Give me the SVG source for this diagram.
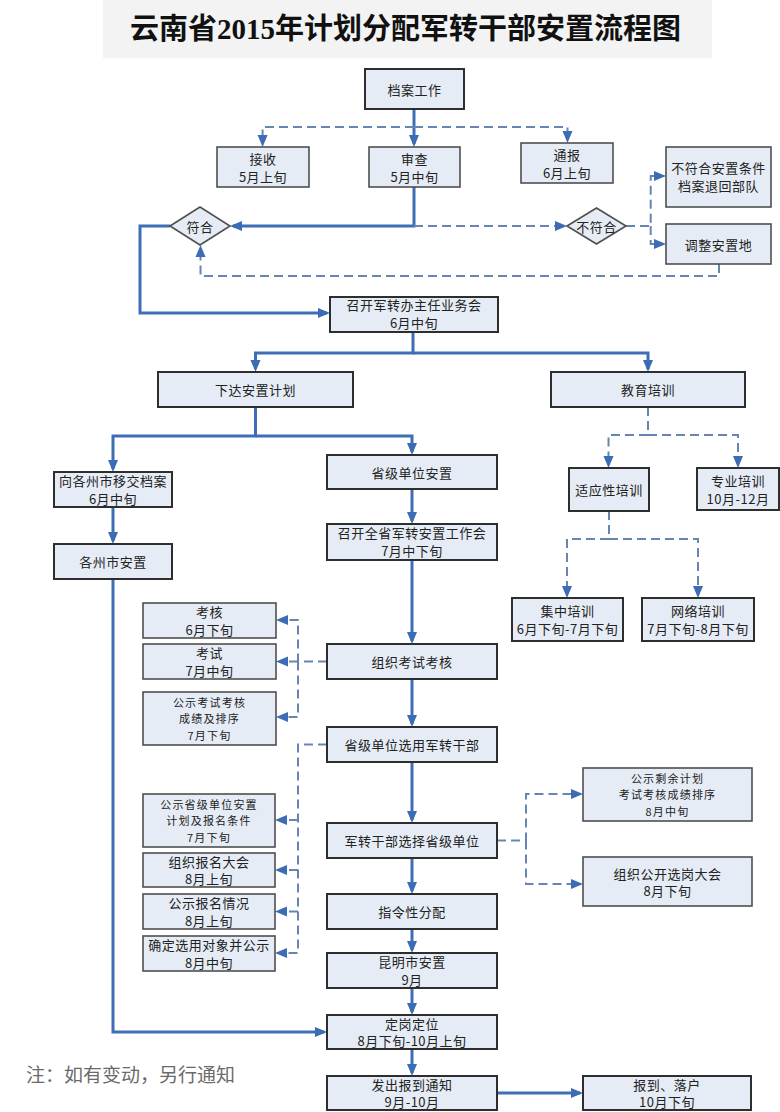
<svg xmlns="http://www.w3.org/2000/svg" width="780" height="1112" viewBox="0 0 780 1112">
<defs>
<style>
.box{fill:#e6ecf5;stroke:#2e2e2e;stroke-width:2}
.box2{fill:#e6ecf5;stroke:#4f4f4f;stroke-width:1.6}
.t{font-family:"Noto Sans CJK SC","Noto Sans",sans-serif;font-size:13px;fill:#222;text-anchor:middle;dominant-baseline:central;letter-spacing:0.5px}
.t3{font-family:"Noto Sans CJK SC","Noto Sans",sans-serif;font-size:11px;fill:#222;text-anchor:middle;dominant-baseline:central;letter-spacing:1.2px}
.s{fill:none;stroke:#3e6fb6;stroke-width:3}
.d{fill:none;stroke:#6685b0;stroke-width:2;stroke-dasharray:9 5}
</style>
<marker id="a" viewBox="0 0 12 12" refX="9" refY="6" markerWidth="12" markerHeight="12" markerUnits="userSpaceOnUse" orient="auto">
<path d="M0,1 L12,6 L0,11 z" fill="#3b6cb5"/>
</marker>
</defs>
<rect width="780" height="1112" fill="#ffffff"/>
<g id="title">
<rect x="103" y="0" width="609" height="58" fill="#f3f3f3"/>
<text x="405.5" y="39" font-family="'Liberation Serif','Noto Sans CJK SC',serif" font-size="29" font-weight="bold" fill="#111" text-anchor="middle">云南省2015年计划分配军转干部安置流程图</text>
</g>
<g id="connectors">
<path class="s" d="M414,109 V144" marker-end="url(#a)"/>
<path class="d" d="M414,127 H262.6 V144" marker-end="url(#a)"/>
<path class="d" d="M414,127 H567.5 V140" marker-end="url(#a)"/>
<path class="s" d="M414,187 V226 H233" marker-end="url(#a)"/>
<path class="d" d="M414,226 H564" marker-end="url(#a)"/>
<path class="d" d="M626,226 H650.7 V176 H663" marker-end="url(#a)"/>
<path class="d" d="M650.7,226 V244 H663" marker-end="url(#a)"/>
<path class="d" d="M719,264 V276 H200.5 V248" marker-end="url(#a)"/>
<path class="s" d="M170,226 H140 V313 H327" marker-end="url(#a)"/>
<path class="s" d="M413,332 V353 H255.5 V369" marker-end="url(#a)"/>
<path class="s" d="M413,353 H648 V369" marker-end="url(#a)"/>
<path class="s" d="M255.5,407 V436 H113 V469" marker-end="url(#a)"/>
<path class="s" d="M255.5,436 H412 V452" marker-end="url(#a)"/>
<path class="s" d="M113,507 V541" marker-end="url(#a)"/>
<path class="s" d="M412,489 V521" marker-end="url(#a)"/>
<path class="d" d="M648,407 V435 H608.5 V465" marker-end="url(#a)"/>
<path class="d" d="M648,435 H738 V465" marker-end="url(#a)"/>
<path class="d" d="M609,511 V539 H567 V595" marker-end="url(#a)"/>
<path class="d" d="M609,539 H698 V595" marker-end="url(#a)"/>
<path class="s" d="M412,560 V641" marker-end="url(#a)"/>
<path class="d" d="M327,661.5 H298 V620 H279" marker-end="url(#a)"/>
<path class="d" d="M298,661.5 H279" marker-end="url(#a)"/>
<path class="d" d="M298,661.5 V717 H279" marker-end="url(#a)"/>
<path class="s" d="M412,679 V724" marker-end="url(#a)"/>
<path class="d" d="M327,744.5 H298 V953 H278" marker-end="url(#a)"/>
<path class="d" d="M298,820 H278" marker-end="url(#a)"/>
<path class="d" d="M298,870 H278" marker-end="url(#a)"/>
<path class="d" d="M298,911.5 H278" marker-end="url(#a)"/>
<path class="s" d="M412,762 V820" marker-end="url(#a)"/>
<path class="d" d="M497,840.5 H526 V794 H580" marker-end="url(#a)"/>
<path class="d" d="M526,840.5 V884 H580" marker-end="url(#a)"/>
<path class="s" d="M412,858 V891" marker-end="url(#a)"/>
<path class="s" d="M412,929 V950" marker-end="url(#a)"/>
<path class="s" d="M412,988 V1012" marker-end="url(#a)"/>
<path class="s" d="M113,579 V1032 H324" marker-end="url(#a)"/>
<path class="s" d="M412,1049 V1073" marker-end="url(#a)"/>
<path class="s" d="M497,1093 H580" marker-end="url(#a)"/>
</g>
<g id="n-dangan"><rect class="box" x="365" y="69" width="99" height="40"/><text class="t" x="414.5" y="89">档案工作</text></g>
<g id="n-jieshou"><rect class="box2" x="217" y="147" width="92" height="40"/><text class="t" x="263" y="158.5">接收</text><text class="t" x="263" y="176">5月上旬</text></g>
<g id="n-shencha"><rect class="box2" x="369" y="147" width="91" height="40"/><text class="t" x="414.5" y="158.5">审查</text><text class="t" x="414.5" y="176">5月中旬</text></g>
<g id="n-tongbao"><rect class="box2" x="521" y="143" width="92" height="40"/><text class="t" x="567" y="154.5">通报</text><text class="t" x="567" y="172">6月上旬</text></g>
<g id="n-butuihui"><rect class="box2" x="666" y="147" width="105" height="60"/><text class="t" x="718.5" y="167">不符合安置条件</text><text class="t" x="718.5" y="185">档案退回部队</text></g>
<g id="n-tiaozheng"><rect class="box2" x="666" y="224" width="105" height="40"/><text class="t" x="718.5" y="244">调整安置地</text></g>
<g id="n-fuhe"><polygon class="box2" points="170,226 200,207 230,226 200,245"/><text class="t" x="200" y="226">符合</text></g>
<g id="n-bufuhe"><polygon class="box2" points="567,226 596.5,208 626,226 596.5,244"/><text class="t" x="596.5" y="226">不符合</text></g>
<g id="n-zhaokai"><rect class="box" x="330" y="297" width="168" height="35"/><text class="t" x="414" y="304.5">召开军转办主任业务会</text><text class="t" x="414" y="322.5">6月中旬</text></g>
<g id="n-xiada"><rect class="box" x="158" y="372" width="195" height="35"/><text class="t" x="255.5" y="389.5">下达安置计划</text></g>
<g id="n-jiaoyu"><rect class="box" x="551" y="372" width="194" height="35"/><text class="t" x="648" y="389.5">教育培训</text></g>
<g id="n-xiangge"><rect class="box" x="54" y="472" width="118" height="35"/><text class="t" x="113" y="480.5">向各州市移交档案</text><text class="t" x="113" y="498">6月中旬</text></g>
<g id="n-shengji"><rect class="box" x="327" y="455" width="170" height="34"/><text class="t" x="412" y="472">省级单位安置</text></g>
<g id="n-gezhou"><rect class="box" x="54" y="544" width="118" height="35"/><text class="t" x="113" y="561.5">各州市安置</text></g>
<g id="n-zhaokaiquan"><rect class="box" x="327" y="524" width="170" height="36"/><text class="t" x="412" y="532.5">召开全省军转安置工作会</text><text class="t" x="412" y="550.5">7月中下旬</text></g>
<g id="n-shiying"><rect class="box" x="569" y="468" width="80" height="43"/><text class="t" x="609" y="489.5">适应性培训</text></g>
<g id="n-zhuanye"><rect class="box" x="697" y="468" width="82" height="42"/><text class="t" x="738" y="480">专业培训</text><text class="t" x="738" y="498">10月-12月</text></g>
<g id="n-jizhong"><rect class="box" x="512" y="598" width="111" height="43"/><text class="t" x="567.5" y="610.5">集中培训</text><text class="t" x="567.5" y="628.5">6月下旬-7月下旬</text></g>
<g id="n-wangluo"><rect class="box" x="642" y="598" width="112" height="43"/><text class="t" x="698" y="610.5">网络培训</text><text class="t" x="698" y="628.5">7月下旬-8月下旬</text></g>
<g id="n-kaohe"><rect class="box2" x="143" y="603" width="133" height="35"/><text class="t" x="209.5" y="611.5">考核</text><text class="t" x="209.5" y="629">6月下旬</text></g>
<g id="n-kaoshi"><rect class="box2" x="143" y="644" width="133" height="35"/><text class="t" x="209.5" y="652.5">考试</text><text class="t" x="209.5" y="670">7月中旬</text></g>
<g id="n-gongshi1"><rect class="box2" x="143" y="692" width="133" height="53"/><text class="t3" x="209.5" y="702">公示考试考核</text><text class="t3" x="209.5" y="718.3">成绩及排序</text><text class="t3" x="209.5" y="734.6">7月下旬</text></g>
<g id="n-zuzhi"><rect class="box" x="327" y="644" width="170" height="35"/><text class="t" x="412" y="661.5">组织考试考核</text></g>
<g id="n-xuanyong"><rect class="box" x="327" y="727" width="170" height="35"/><text class="t" x="412" y="744.5">省级单位选用军转干部</text></g>
<g id="n-gongshi2"><rect class="box2" x="143" y="794" width="132" height="53"/><text class="t3" x="209" y="804">公示省级单位安置</text><text class="t3" x="209" y="820.3">计划及报名条件</text><text class="t3" x="209" y="836.6">7月下旬</text></g>
<g id="n-baoming"><rect class="box2" x="143" y="853" width="132" height="34"/><text class="t" x="209" y="861">组织报名大会</text><text class="t" x="209" y="878.5">8月上旬</text></g>
<g id="n-gongshi3"><rect class="box2" x="143" y="894" width="132" height="35"/><text class="t" x="209" y="902.5">公示报名情况</text><text class="t" x="209" y="920">8月上旬</text></g>
<g id="n-queding"><rect class="box2" x="143" y="936" width="132" height="35"/><text class="t" x="209" y="944.5">确定选用对象并公示</text><text class="t" x="209" y="962">8月中旬</text></g>
<g id="n-xuanze"><rect class="box" x="327" y="823" width="170" height="35"/><text class="t" x="412" y="840.5">军转干部选择省级单位</text></g>
<g id="n-gongshi4"><rect class="box2" x="583" y="768" width="169" height="53"/><text class="t3" x="667.5" y="778">公示剩余计划</text><text class="t3" x="667.5" y="794.3">考试考核成绩排序</text><text class="t3" x="667.5" y="810.6">8月中旬</text></g>
<g id="n-xuangang"><rect class="box2" x="583" y="857" width="169" height="49"/><text class="t" x="667.5" y="873">组织公开选岗大会</text><text class="t" x="667.5" y="890.5">8月下旬</text></g>
<g id="n-zhiling"><rect class="box" x="327" y="894" width="170" height="35"/><text class="t" x="412" y="911.5">指令性分配</text></g>
<g id="n-kunming"><rect class="box" x="327" y="953" width="170" height="35"/><text class="t" x="412" y="961.5">昆明市安置</text><text class="t" x="412" y="979">9月</text></g>
<g id="n-dinggang"><rect class="box" x="327" y="1015" width="170" height="34"/><text class="t" x="412" y="1023">定岗定位</text><text class="t" x="412" y="1040.5">8月下旬-10月上旬</text></g>
<g id="n-fachu"><rect class="box" x="327" y="1076" width="170" height="34"/><text class="t" x="412" y="1084">发出报到通知</text><text class="t" x="412" y="1101.5">9月-10月</text></g>
<g id="n-baodao"><rect class="box" x="583" y="1076" width="168" height="34"/><text class="t" x="667" y="1084">报到、落户</text><text class="t" x="667" y="1101.5">10月下旬</text></g>
<g id="note"><text x="26" y="1082" font-family="'Noto Sans CJK SC',sans-serif" font-size="19" fill="#6a6a6a">注：如有变动，另行通知</text></g>
</svg>
